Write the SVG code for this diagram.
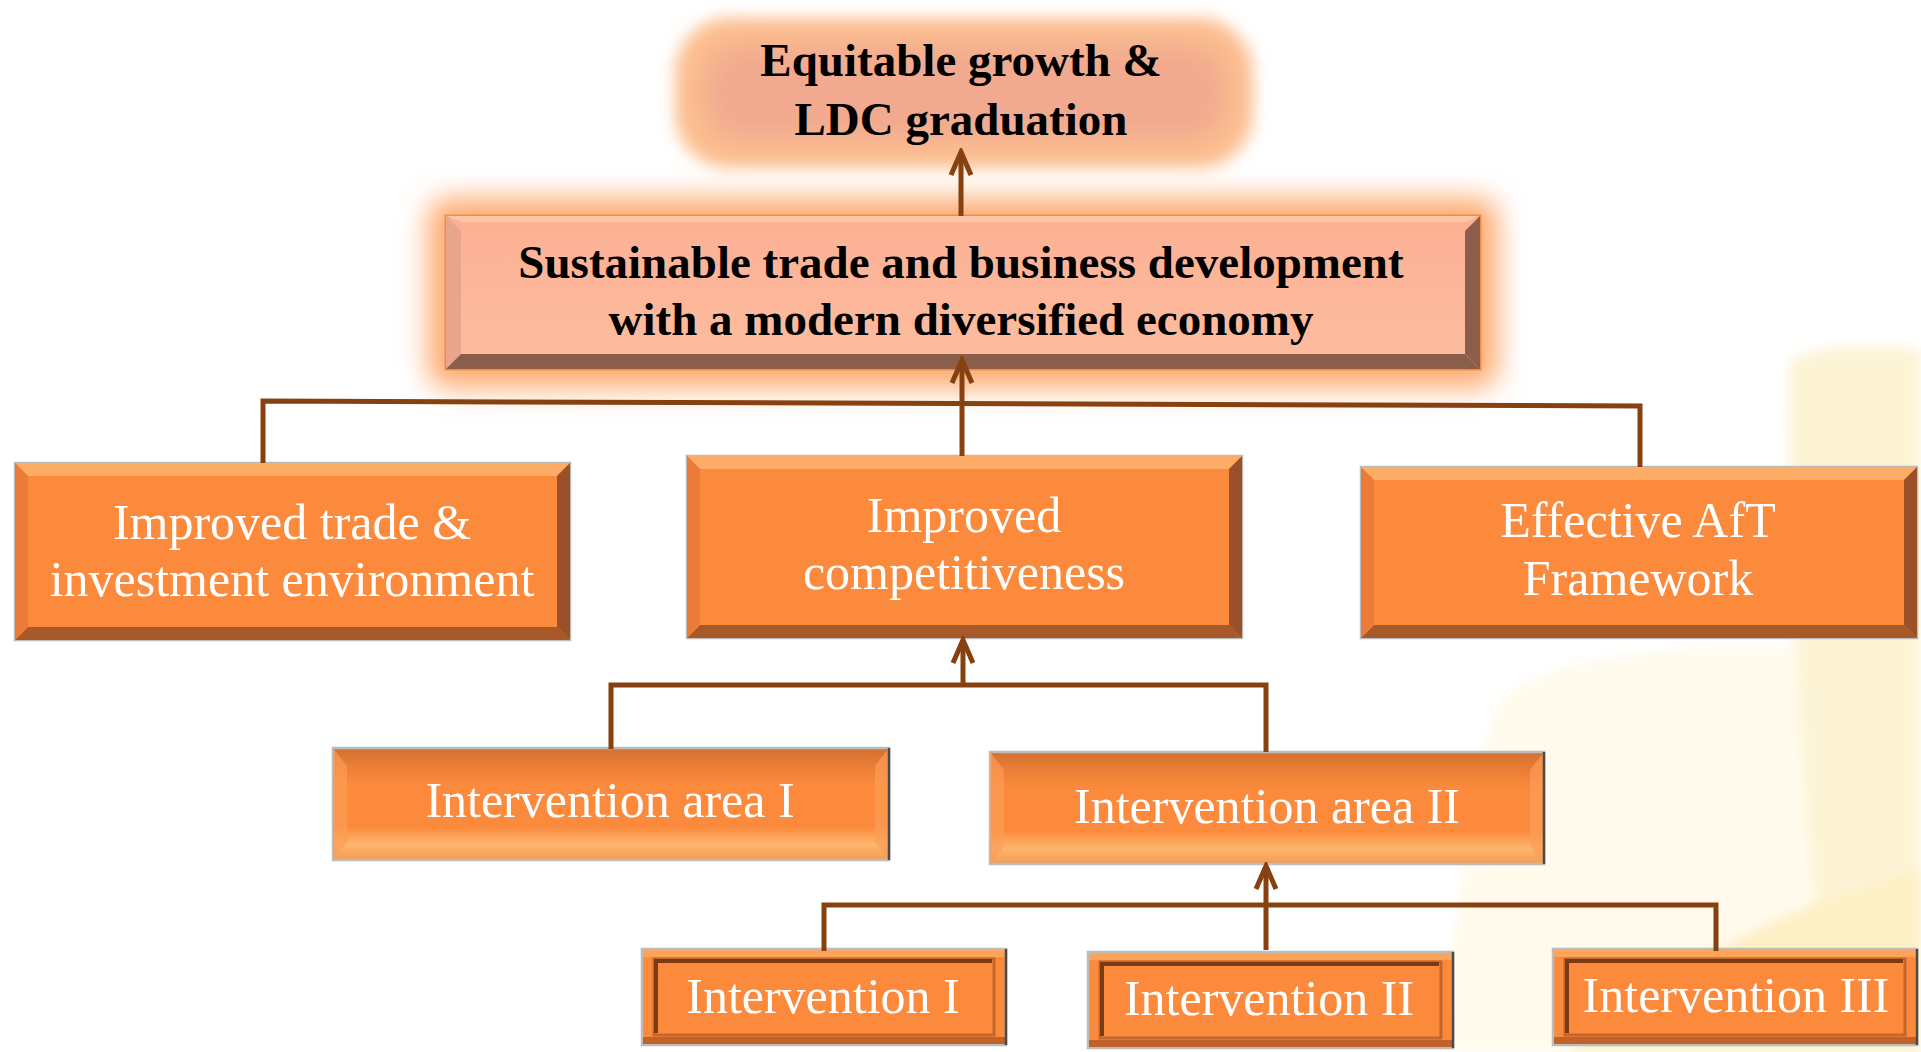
<svg xmlns="http://www.w3.org/2000/svg" width="1921" height="1052" viewBox="0 0 1921 1052">
<defs>
<style>
.bt{font-family:"Liberation Serif","Times New Roman",serif;font-weight:bold;font-size:47px;fill:#000;text-anchor:middle}
.wt{font-family:"Liberation Serif","Times New Roman",serif;font-size:50px;fill:#fff;text-anchor:middle}
.rim{fill:#fb8a3c;stroke:#bcbcbc;stroke-width:2.5}
.bvt{fill:#fdac66}
.bvb{fill:#a9582a}
.bvl{fill:#ea7b38}
.bvr{fill:#9a5028}
.prs{fill:url(#pressed);stroke:#bcbcbc;stroke-width:2.5}
.psl{fill:#fc9d55;opacity:0.7}
.edge{stroke:#4a4a4a;stroke-width:2.5}
.frm{fill:#fb8a3c;stroke:#bcbcbc;stroke-width:2.5}
.ftop{fill:#fca35c}
.fbot{fill:#c0622a}
.inr{fill:#fb8a3c;stroke:#c2662c;stroke-width:3}
.inrd{fill:none;stroke:#7a3a12;stroke-width:4}
.con{fill:none;stroke:#87400f;stroke-width:5}
</style>
<linearGradient id="pressed" x1="0" y1="0" x2="0" y2="1">
<stop offset="0" stop-color="#d2702f"/>
<stop offset="0.16" stop-color="#ea7e36"/>
<stop offset="0.32" stop-color="#fb8a3c"/>
<stop offset="0.70" stop-color="#fb8a3c"/>
<stop offset="0.86" stop-color="#fdb56d"/>
<stop offset="1" stop-color="#f39c55"/>
</linearGradient>
<linearGradient id="peach" x1="0" y1="0" x2="0" y2="1">
<stop offset="0" stop-color="#fcb094"/>
<stop offset="1" stop-color="#fdbd9f"/>
</linearGradient>
<filter id="blur8" x="-20%" y="-40%" width="140%" height="180%"><feGaussianBlur stdDeviation="8"/></filter>
<filter id="blur14" x="-20%" y="-40%" width="140%" height="180%"><feGaussianBlur stdDeviation="14"/></filter>
<filter id="blur6" x="-30%" y="-30%" width="160%" height="160%"><feGaussianBlur stdDeviation="6"/></filter>
<marker id="arr" viewBox="-26 -14 30 28" markerWidth="30" markerHeight="28" refX="0" refY="0" orient="auto" markerUnits="userSpaceOnUse">
<path d="M -23 -10 L 0 0 L -23 10" fill="none" stroke="#87400f" stroke-width="5" stroke-linejoin="miter"/>
</marker>
</defs>
<rect width="1921" height="1052" fill="#ffffff"/>
<g id="background" filter="url(#blur6)">
<path d="M 1500 700 C 1560 650 1700 640 1921 650 L 1921 1052 L 1440 1052 C 1460 900 1470 780 1500 700 Z" fill="#fffaec"/>
<path d="M 1790 360 C 1830 340 1880 345 1921 350 L 1921 1052 L 1830 1052 C 1800 800 1785 500 1790 360 Z" fill="#fdf4d6"/>
<path d="M 1560 1052 C 1680 960 1800 900 1921 870 L 1921 1052 Z" fill="#fdf0c4"/>
</g>
<g id="n-equitable">
<rect x="675" y="18" width="578" height="150" rx="55" fill="#fcbf8f" filter="url(#blur8)"/>
<rect x="705" y="45" width="520" height="95" rx="35" fill="#f1a98f" filter="url(#blur14)"/>
<text class="bt" x="961" y="76">Equitable growth &amp;</text>
<text class="bt" x="961" y="135">LDC graduation</text>
</g>
<g id="n-sustainable">
<rect x="428" y="198" width="1070" height="190" rx="20" fill="#fdaa70" filter="url(#blur14)"/>
<rect x="446" y="216" width="1034" height="153" fill="url(#peach)" stroke="#f58d3e" stroke-width="3"/>
<polygon points="446,216 461,231 461,354 446,369" fill="#e9a58c"/>
<polygon points="446,369 1480,369 1465,354 461,354" fill="#8b5e4c"/>
<polygon points="1480,216 1465,231 1465,354 1480,369" fill="#8b5e4c"/>
<polygon points="446,216 1480,216 1465,222 461,222" fill="#fcc4a8"/>
<text class="bt" x="961" y="278">Sustainable trade and business development</text>
<text class="bt" x="961" y="335">with a modern diversified economy</text>
</g>
<g id="n-trade">
<rect class="rim" x="15" y="463" width="555" height="177"/>
<polygon class="bvt" points="15,463 570,463 557,476 28,476"/>
<polygon class="bvb" points="15,640 570,640 557,627 28,627"/>
<polygon class="bvl" points="15,463 28,476 28,627 15,640"/>
<polygon class="bvr" points="570,463 557,476 557,627 570,640"/>
<text class="wt" x="292" y="539">Improved trade &amp;</text>
<text class="wt" x="292" y="596">investment environment</text>
</g>
<g id="n-competitiveness">
<rect class="rim" x="687" y="456" width="555" height="182"/>
<polygon class="bvt" points="687,456 1242,456 1229,469 700,469"/>
<polygon class="bvb" points="687,638 1242,638 1229,625 700,625"/>
<polygon class="bvl" points="687,456 700,469 700,625 687,638"/>
<polygon class="bvr" points="1242,456 1229,469 1229,625 1242,638"/>
<text class="wt" x="964" y="532">Improved</text>
<text class="wt" x="964" y="589">competitiveness</text>
</g>
<g id="n-aft">
<rect class="rim" x="1361" y="467" width="556" height="171"/>
<polygon class="bvt" points="1361,467 1917,467 1904,480 1374,480"/>
<polygon class="bvb" points="1361,638 1917,638 1904,625 1374,625"/>
<polygon class="bvl" points="1361,467 1374,480 1374,625 1361,638"/>
<polygon class="bvr" points="1917,467 1904,480 1904,625 1917,638"/>
<text class="wt" x="1638" y="537">Effective AfT</text>
<text class="wt" x="1638" y="595">Framework</text>
</g>
<g id="n-area1">
<rect class="prs" x="333" y="748" width="556" height="112"/>
<polygon class="psl" points="333,748 347,766 347,842 333,860"/>
<polygon class="psl" points="889,748 875,766 875,842 889,860"/>
<line class="edge" x1="889" y1="748" x2="889" y2="860"/>
<text class="wt" x="610" y="817">Intervention area I</text>
</g>
<g id="n-area2">
<rect class="prs" x="990" y="752" width="554" height="112"/>
<polygon class="psl" points="990,752 1004,770 1004,846 990,864"/>
<polygon class="psl" points="1544,752 1530,770 1530,846 1544,864"/>
<line class="edge" x1="1544" y1="752" x2="1544" y2="864"/>
<text class="wt" x="1267" y="823">Intervention area II</text>
</g>
<g id="n-int1">
<rect class="frm" x="642" y="949" width="364" height="96"/>
<rect class="ftop" x="643" y="950" width="362" height="7"/>
<rect class="fbot" x="643" y="1037" width="362" height="7"/>
<rect class="inr" x="654" y="959" width="340" height="76"/>
<polyline class="inrd" points="656,1033 656,961 992,961"/>
<line class="edge" x1="1006" y1="949" x2="1006" y2="1045"/>
<text class="wt" x="823" y="1013">Intervention I</text>
</g>
<g id="n-int2">
<rect class="frm" x="1088" y="952" width="365" height="96"/>
<rect class="ftop" x="1089" y="953" width="363" height="7"/>
<rect class="fbot" x="1089" y="1040" width="363" height="7"/>
<rect class="inr" x="1100" y="962" width="341" height="76"/>
<polyline class="inrd" points="1102,1036 1102,964 1439,964"/>
<line class="edge" x1="1453" y1="952" x2="1453" y2="1048"/>
<text class="wt" x="1269" y="1015">Intervention II</text>
</g>
<g id="n-int3">
<rect class="frm" x="1553" y="949" width="364" height="96"/>
<rect class="ftop" x="1554" y="950" width="362" height="7"/>
<rect class="fbot" x="1554" y="1037" width="362" height="7"/>
<rect class="inr" x="1565" y="959" width="340" height="76"/>
<polyline class="inrd" points="1567,1033 1567,961 1903,961"/>
<line class="edge" x1="1917" y1="949" x2="1917" y2="1045"/>
<text class="wt" x="1736" y="1012">Intervention III</text>
</g>
<g id="connectors">
<line class="con" x1="961" y1="216" x2="961" y2="152" marker-end="url(#arr)"/>
<line class="con" x1="962" y1="456" x2="962" y2="360" marker-end="url(#arr)"/>
<polyline class="con" points="263,463 263,401 1640,406 1640,467"/>
<line class="con" x1="963" y1="685" x2="963" y2="640" marker-end="url(#arr)"/>
<polyline class="con" points="611,749 611,685 1266,685 1266,752"/>
<line class="con" x1="1266" y1="950" x2="1266" y2="866" marker-end="url(#arr)"/>
<polyline class="con" points="824,951 824,905 1716,905 1716,951"/>
</g>
</svg>
